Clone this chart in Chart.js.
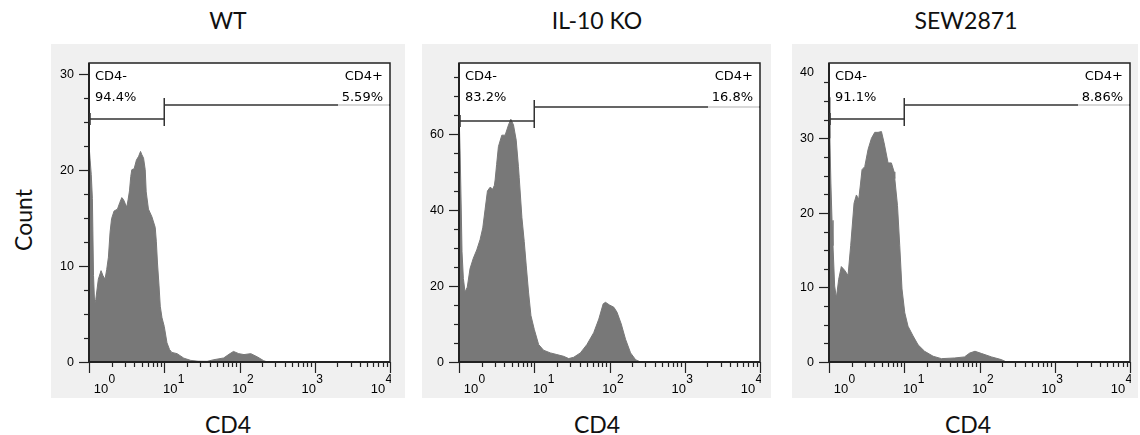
<!DOCTYPE html>
<html lang="en">
<head>
<meta charset="UTF-8">
<title>CD4 histograms</title>
<script src="https://cdn.jsdelivr.net/npm/chart.js"></script>
<style>
  body { margin: 0; width: 1140px; height: 435px; background: #fff; position: relative; overflow: hidden; font-family: Lato, sans-serif; }
  .panel { position: absolute; top: 44px; height: 354px; background: #f0f0f0; }
  .panel canvas { display: block; }
  .lbl { position: absolute; transform: translate(-50%, -50%); font-size: 23px; line-height: 1; color: #111; white-space: nowrap; }
  .ylab { transform: translate(-50%, -50%) rotate(-90deg); }
</style>
</head>
<body>
  <div class="lbl ylab" style="left:22.5px; top:220px;">Count</div>

  <div class="lbl" id="t0" style="left:228px; top:20px;"></div>
  <div class="lbl" id="t1" style="left:597px; top:20px;"></div>
  <div class="lbl" id="t2" style="left:966px; top:20px;"></div>

  <div class="panel" style="left:51px; width:354px;"><canvas id="c0" width="354" height="354"></canvas></div>
  <div class="panel" style="left:422px; width:349px;"><canvas id="c1" width="349" height="354"></canvas></div>
  <div class="panel" style="left:792px; width:346px;"><canvas id="c2" width="346" height="354"></canvas></div>

  <div class="lbl xlab" style="left:228px; top:424px;">CD4</div>
  <div class="lbl xlab" style="left:597px; top:424px;">CD4</div>
  <div class="lbl xlab" style="left:968px; top:424px;">CD4</div>

<script>
// panel names and gate labels
const titles = ['WT', 'IL-10 KO', 'SEW2871'];
const negPct = ['94.4%', '83.2%', '91.1%'];
const posPct = ['5.59%', '16.8%', '8.86%'];

// gates, in decades of CD4 (10^0 .. 10^4)
const gateNeg = [0, 1];
const gatePos = [1, 4];

// axis ticks: x in decades, y in counts
const xTickExp = [0, 1, 2, 3, 4];
const wtYTicks = [0, 10, 20, 30];
const koYTicks = [0, 20, 40, 60];
const sewYTicks = [0, 10, 20, 30, 40];

// histogram outlines (x = log10 CD4, y = count)
const wtX = [0.000, 0.015, 0.030, 0.045, 0.060, 0.075, 0.090, 0.124, 0.160, 0.185, 0.213, 0.235, 0.258, 0.280, 0.300,
  0.333, 0.378, 0.410, 0.436, 0.458, 0.480, 0.502, 0.520, 0.538, 0.555, 0.569, 0.600, 0.630, 0.660, 0.685, 0.700,
  0.725, 0.747, 0.760, 0.790, 0.836, 0.880, 0.895, 0.910, 0.930, 0.947, 0.970, 1.000, 1.036, 1.070, 1.100, 1.170,
  1.260, 1.350, 1.450, 1.570, 1.660, 1.790, 1.860, 1.920, 1.990, 2.060, 2.150, 2.240, 2.320, 2.370, 4.000];
const wtY = [22.6, 21.0, 19.5, 17.0, 9.0, 6.0, 6.5, 8.6, 9.5, 9.0, 8.6, 9.6, 10.9, 13.5, 14.9,
  15.7, 15.9, 16.6, 17.1, 16.9, 16.5, 16.1, 16.9, 17.8, 19.3, 20.0, 20.1, 21.0, 21.4, 21.9, 21.6,
  21.2, 20.0, 17.7, 15.9, 15.1, 14.0, 12.5, 10.3, 8.0, 5.8, 4.6, 3.7, 2.0, 1.3, 1.0, 0.87,
  0.4, 0.17, 0.08, 0.07, 0.24, 0.42, 0.8, 1.1, 0.87, 0.77, 0.87, 0.52, 0.14, 0, 0];

const koX = [0.000, 0.015, 0.030, 0.040, 0.058, 0.080, 0.110, 0.147, 0.190, 0.236, 0.280, 0.316, 0.347, 0.378, 0.413,
  0.449, 0.470, 0.480, 0.500, 0.524, 0.569, 0.613, 0.658, 0.689, 0.724, 0.760, 0.790, 0.800, 0.836, 0.867, 0.893,
  0.924, 0.956, 1.000, 1.058, 1.124, 1.213, 1.300, 1.390, 1.458, 1.524, 1.613, 1.700, 1.790, 1.858, 1.916, 1.947,
  2.000, 2.058, 2.100, 2.156, 2.213, 2.280, 2.347, 2.413, 4.000];
const koY = [66.0, 55.0, 40.0, 29.0, 22.0, 18.4, 19.7, 24.6, 27.3, 29.5, 32.2, 35.3, 40.2, 45.0, 46.0,
  45.5, 46.5, 47.9, 52.0, 56.7, 59.7, 59.7, 62.4, 63.9, 62.4, 58.4, 51.4, 48.6, 38.0, 31.7, 25.5,
  18.4, 12.2, 8.6, 4.6, 3.1, 2.4, 1.96, 1.5, 0.9, 1.24, 2.4, 4.6, 7.7, 11.3, 15.3, 15.7,
  15.0, 14.4, 13.1, 10.0, 6.0, 2.4, 0.6, 0, 0];

const sewX = [0.000, 0.012, 0.025, 0.040, 0.053, 0.075, 0.098, 0.129, 0.164, 0.208, 0.253, 0.288, 0.333, 0.364, 0.395,
  0.420, 0.439, 0.475, 0.519, 0.564, 0.608, 0.652, 0.697, 0.732, 0.785, 0.829, 0.865, 0.874, 0.910, 0.940, 0.970,
  1.007, 1.050, 1.117, 1.184, 1.270, 1.384, 1.494, 1.670, 1.800, 1.870, 1.940, 2.030, 2.160, 2.290, 2.360, 4.000];
const sewY = [35.5, 30.0, 24.0, 19.0, 15.6, 10.2, 8.6, 11.1, 12.8, 12.3, 11.6, 15.6, 21.3, 22.4, 21.8,
  24.0, 25.8, 26.2, 28.5, 30.0, 30.8, 30.8, 30.9, 29.4, 26.7, 26.7, 25.5, 24.6, 21.0, 15.6, 9.8,
  6.6, 4.8, 3.5, 2.3, 1.44, 0.77, 0.45, 0.54, 0.68, 1.2, 1.44, 1.13, 0.68, 0.32, 0, 0];

const seriesX = [wtX, koX, sewX];
const seriesY = [wtY, koY, sewY];
const yTicks = [wtYTicks, koYTicks, sewYTicks];

// per-panel geometry
const layouts = [
  { yAxisW: 38, padRight: 15, yMax: 31.1, negOff: 56, posOff: 42 },
  { yAxisW: 37, padRight: 11, yMax: 78.7, negOff: 58, posOff: 44 },
  { yAxisW: 37, padRight: 8, yMax: 40.1, negOff: 56, posOff: 42 }
];

function flowPlugin(i) {
  const L = layouts[i];
  return {
    id: 'flow' + i,
    beforeDraw(chart) {
      const a = chart.chartArea, ctx = chart.ctx;
      ctx.save();
      ctx.fillStyle = '#fff';
      ctx.fillRect(a.left, a.top, a.right - a.left, a.bottom - a.top);
      ctx.restore();
    },
    afterDraw(chart) {
      const { ctx, chartArea: a, scales: { x, y } } = chart;
      ctx.save();

      // frame
      ctx.strokeStyle = '#222';
      ctx.lineWidth = 1.5;
      ctx.strokeRect(a.left, a.top, a.right - a.left, a.bottom - a.top);
      ctx.lineWidth = 2;
      ctx.beginPath();
      ctx.moveTo(a.left, a.top); ctx.lineTo(a.left, a.bottom); ctx.lineTo(a.right, a.bottom);
      ctx.stroke();

      // y ticks + labels
      ctx.lineWidth = 1.2;
      ctx.fillStyle = '#000';
      ctx.font = '12.5px "Liberation Sans"';
      ctx.textAlign = 'right';
      ctx.textBaseline = 'middle';
      y.ticks.forEach(t => {
        const py = Math.round(y.getPixelForValue(t.value)) + 0.5;
        const len = t.major ? 10 : 5;
        if (py > a.top + 3) {
          ctx.beginPath(); ctx.moveTo(a.left - len, py); ctx.lineTo(a.left, py); ctx.stroke();
        }
        if (t.major) ctx.fillText(String(t.value), a.left - 15, Math.max(py, a.top + 10));
      });

      // x ticks
      x.ticks.forEach(t => {
        const px = Math.round(x.getPixelForValue(t.value)) + 0.5;
        const len = t.major ? 11 : 5;
        ctx.beginPath(); ctx.moveTo(px, a.bottom); ctx.lineTo(px, a.bottom + len); ctx.stroke();
      });

      // x labels 10^n
      ctx.save();
      ctx.beginPath(); ctx.rect(0, 0, a.right + 1, chart.height); ctx.clip();
      const w = a.right - a.left;
      xTickExp.forEach(e => {
        const px = x.getPixelForValue(e);
        const lx = a.left + 12 + (px - a.left) * (w - 24) / w;
        ctx.textBaseline = 'alphabetic';
        ctx.textAlign = 'center';
        ctx.font = '13px "Liberation Sans"';
        ctx.fillText('10', lx, a.bottom + 31);
        ctx.textAlign = 'left';
        ctx.font = '12px "Liberation Sans"';
        ctx.fillText(String(e), lx + 7.5, a.bottom + 21);
      });
      ctx.restore();

      // gates
      const gy1 = a.top + L.negOff, gy2 = a.top + L.posOff;
      const x0 = x.getPixelForValue(gateNeg[0]), x1 = x.getPixelForValue(gateNeg[1]);
      const x2 = x.getPixelForValue(gatePos[0]), x3 = x.getPixelForValue(gatePos[1]);
      ctx.strokeStyle = '#333';
      ctx.lineWidth = 1.5;
      ctx.beginPath();
      ctx.moveTo(x0, gy1); ctx.lineTo(x1, gy1);
      ctx.moveTo(x0 + 1, gy1 - 6); ctx.lineTo(x0 + 1, gy1 + 6);
      ctx.moveTo(x1, gy1 - 7); ctx.lineTo(x1, gy1 + 7);
      ctx.moveTo(x2, gy2); ctx.lineTo(x3, gy2);
      ctx.moveTo(x2, gy2 - 7); ctx.lineTo(x2, gy2 + 7);
      ctx.stroke();
      ctx.fillStyle = 'rgba(255,255,255,0.75)';
      ctx.fillRect(a.right - 52, a.top + 2, 51, gy2 - a.top + 6);

      ctx.fillStyle = '#000';
      ctx.font = '13px "DejaVu Sans"';
      ctx.textBaseline = 'alphabetic';
      ctx.textAlign = 'left';
      ctx.fillText('CD4-', a.left + 6, a.top + 17);
      ctx.fillText(negPct[i], a.left + 6, a.top + 38);
      ctx.textAlign = 'right';
      ctx.fillText('CD4+', a.right - 7, a.top + 17);
      ctx.fillText(posPct[i], a.right - 7, a.top + 38);

      ctx.restore();
    }
  };
}

function buildXTicks(scale) {
  const ticks = [];
  xTickExp.forEach((e, k) => {
    ticks.push({ value: e, major: true });
    if (k < xTickExp.length - 1) {
      for (let m = 2; m <= 9; m++) ticks.push({ value: e + Math.log10(m), major: false });
    }
  });
  scale.ticks = ticks;
}

function buildYTicks(majors, yMax) {
  return function (scale) {
    const step = majors[1] - majors[0];
    const ticks = [];
    for (let k = 0; k < majors.length; k++) {
      ticks.push({ value: majors[k], major: true });
      for (let q = 1; q < 4; q++) {
        const v = majors[k] + q * step / 4;
        if (v <= yMax) ticks.push({ value: v, major: false });
      }
    }
    scale.ticks = ticks;
  };
}

titles.forEach((name, i) => {
  document.getElementById('t' + i).textContent = name;
  const L = layouts[i];
  const pts = seriesX[i].map((v, k) => ({ x: v, y: seriesY[i][k] }));

  new Chart(document.getElementById('c' + i), {
    type: 'line',
    data: {
      datasets: [{
        label: name,
        data: pts,
        borderColor: '#787878',
        backgroundColor: '#787878',
        borderWidth: 1,
        fill: 'origin',
        pointRadius: 0,
        tension: 0
      }]
    },
    options: {
      responsive: false,
      animation: false,
      events: [],
      layout: { padding: { top: 19, right: L.padRight, left: 0, bottom: 0 } },
      plugins: { legend: { display: false }, tooltip: { enabled: false } },
      scales: {
        x: {
          type: 'linear', min: 0, max: 4,
          grid: { display: false }, border: { display: false }, ticks: { display: false },
          afterBuildTicks: buildXTicks,
          afterFit(s) { s.height = 36; }
        },
        y: {
          type: 'linear', min: 0, max: L.yMax,
          grid: { display: false }, border: { display: false }, ticks: { display: false },
          afterBuildTicks: buildYTicks(yTicks[i], L.yMax),
          afterFit(s) { s.width = L.yAxisW; }
        }
      }
    },
    plugins: [flowPlugin(i)]
  });
});
</script>
</body>
</html>
